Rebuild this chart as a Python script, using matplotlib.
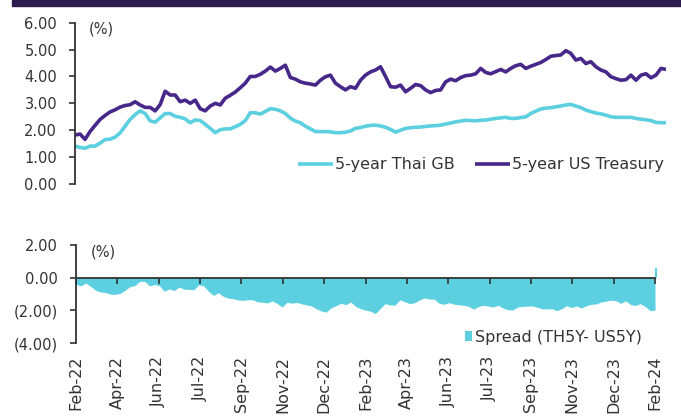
import numpy as np
import matplotlib
matplotlib.use("Agg")
import matplotlib.pyplot as plt
from matplotlib.patches import Rectangle

# ---------------- data ----------------
us5y = [1.82, 1.86, 1.66, 1.95, 2.18, 2.40, 2.55, 2.68, 2.76, 2.86,
        2.92, 2.95, 3.06, 2.94, 2.85, 2.85, 2.72, 2.95, 3.45, 3.31,
        3.31, 3.06, 3.12, 3.00, 3.12, 2.80, 2.72, 2.90, 3.00, 2.94,
        3.19, 3.30, 3.42, 3.58, 3.75, 4.00, 4.00, 4.08, 4.20, 4.35,
        4.20, 4.30, 4.42, 3.96, 3.90, 3.80, 3.75, 3.72, 3.68, 3.86,
        3.99, 4.05, 3.75, 3.62, 3.50, 3.62, 3.56, 3.86, 4.05, 4.17,
        4.24, 4.36, 4.00, 3.62, 3.60, 3.68, 3.43, 3.56, 3.70, 3.66,
        3.50, 3.40, 3.48, 3.50, 3.80, 3.90, 3.84, 3.96, 4.03, 4.05,
        4.10, 4.30, 4.15, 4.10, 4.18, 4.26, 4.17, 4.30, 4.40, 4.45,
        4.30, 4.38, 4.45, 4.52, 4.63, 4.75, 4.78, 4.80, 4.96, 4.86,
        4.61, 4.67, 4.48, 4.55, 4.36, 4.24, 4.17, 3.99, 3.92, 3.86,
        3.88, 4.05, 3.86, 4.05, 4.10, 3.95, 4.05, 4.30, 4.26]

thai5y = [1.41, 1.36, 1.33, 1.41, 1.41, 1.52, 1.65, 1.67, 1.74, 1.90,
          2.15, 2.40, 2.58, 2.72, 2.62, 2.35, 2.30, 2.46, 2.62, 2.62,
          2.52, 2.48, 2.42, 2.28, 2.38, 2.36, 2.22, 2.07, 1.91, 2.02,
          2.05, 2.05, 2.13, 2.22, 2.36, 2.65, 2.65, 2.60, 2.70, 2.80,
          2.78, 2.72, 2.62, 2.45, 2.34, 2.28, 2.15, 2.05, 1.95, 1.95,
          1.95, 1.94, 1.91, 1.91, 1.93, 1.97, 2.07, 2.10, 2.15, 2.18,
          2.19, 2.16, 2.11, 2.03, 1.93, 2.00, 2.07, 2.09, 2.11, 2.12,
          2.14, 2.16, 2.17, 2.19, 2.23, 2.27, 2.31, 2.34, 2.37, 2.36,
          2.35, 2.37, 2.38, 2.41, 2.44, 2.46, 2.48, 2.44, 2.44, 2.47,
          2.50, 2.62, 2.71, 2.79, 2.82, 2.84, 2.87, 2.90, 2.94, 2.96,
          2.90, 2.84, 2.75, 2.69, 2.64, 2.61, 2.56, 2.50, 2.48, 2.48,
          2.48, 2.48, 2.44, 2.41, 2.39, 2.36, 2.29, 2.28, 2.28]

spread_last = [0.60]   # final spread print shown as a spike at the end

month_labels = ["Feb-22", "Apr-22", "Jun-22", "Jul-22", "Sep-22", "Nov-22",
                "Dec-22", "Feb-23", "Apr-23", "Jun-23", "Jul-23", "Sep-23",
                "Nov-23", "Dec-23", "Feb-24"]

upper_ticks = [0, 1, 2, 3, 4, 5, 6]
lower_ticks = [-4, -2, 0, 2]

# ---------------- style ----------------
CYAN = "#5ccfe0"
PURPLE = "#47288a"
HEADER = "#2d1a4f"
TXT = "#333333"
FS = 10.5
FS_LEG = 11.5
FS_X = 11.5

plt.rcParams["font.family"] = ["DejaVu Sans"]

W, H = 681, 419
fig = plt.figure(figsize=(W / 100, H / 100), dpi=100)

def fx(px):
    return px / W

def fy(py):
    return (H - py) / H

# header bar
fig.patches.append(Rectangle((fx(12), fy(6)), 1 - fx(12), fy(0) - fy(6),
                             transform=fig.transFigure, color=HEADER, zorder=5))

us = np.array(us5y)
th = np.array(thai5y)
idx = np.arange(len(us))
spread = th - us

# ---------------- upper panel ----------------
ax1 = fig.add_axes([fx(75), fy(184), fx(666) - fx(75), fy(22.7) - fy(184)])
ax1.plot(idx, th, color=CYAN, lw=2.6, label="5-year Thai GB", solid_capstyle="butt")
ax1.plot(idx, us, color=PURPLE, lw=2.6, label="5-year US Treasury", solid_capstyle="butt")
ax1.set_xlim(idx[0], idx[-1])
ax1.set_ylim(0, 6)
ax1.set_yticks(upper_ticks)
ax1.set_yticklabels([f"{v:.2f}" for v in upper_ticks])
for s in ["top", "right", "bottom"]:
    ax1.spines[s].set_visible(False)
ax1.spines["left"].set_color(TXT)
ax1.spines["left"].set_linewidth(1.3)
ax1.set_xticks([])
ax1.tick_params(axis="y", direction="out", length=4.3, width=1.2, color=TXT,
                labelsize=FS, labelcolor=TXT, pad=8.5)
ax1.text(fx(89), fy(29), "(%)", transform=fig.transFigure, fontsize=FS,
         color=TXT, ha="left", va="center")
ax1.legend(loc="center left", bbox_to_anchor=(fx(298), fy(165)),
           bbox_transform=fig.transFigure, frameon=False, ncol=2, fontsize=FS_LEG,
           labelcolor=TXT, borderpad=0, borderaxespad=0, handlelength=2.2,
           handletextpad=0.12, columnspacing=1.25)

# ---------------- lower panel ----------------
ax2 = fig.add_axes([fx(76), fy(343), fx(655) - fx(76), fy(245) - fy(343)])
ax2.fill_between(idx, spread, 0, color=CYAN, lw=0, label="Spread (TH5Y- US5Y)")
ax2.bar([idx[-1]], spread_last, width=0.35, color=CYAN, lw=0, align="edge",
        clip_on=False)
ax2.set_xlim(idx[0], idx[-1])
ax2.set_ylim(-4, 2)
ax2.set_yticks(lower_ticks)
ax2.set_yticklabels([f"({abs(v):.2f})" if v < 0 else f"{v:.2f}" for v in lower_ticks])
for s in ["top", "right"]:
    ax2.spines[s].set_visible(False)
ax2.spines["bottom"].set_position(("data", 0))
ax2.spines["bottom"].set_zorder(4)
for s in ["left", "bottom"]:
    ax2.spines[s].set_color(TXT)
    ax2.spines[s].set_linewidth(1.3)
ax2.set_xticks(np.linspace(idx[0], idx[-1], len(month_labels)))
ax2.set_xticklabels(month_labels, rotation=90)
ax2.tick_params(axis="y", direction="out", length=4.3, width=1.2, color=TXT,
                labelsize=FS, labelcolor=TXT, pad=8.5)
ax2.tick_params(axis="x", direction="out", length=4.3, width=1.2, color=TXT,
                labelsize=FS_X, labelcolor=TXT, pad=52)
ax2.text(fx(91), fy(252), "(%)", transform=fig.transFigure, fontsize=FS,
         color=TXT, ha="left", va="center")
ax2.legend(loc="center left", bbox_to_anchor=(fx(465), fy(337)),
           bbox_transform=fig.transFigure, frameon=False, fontsize=FS_LEG,
           labelcolor=TXT, borderpad=0, borderaxespad=0, handlelength=0.42,
           handleheight=0.65, handletextpad=0.2)

fig.savefig("out.png", dpi=100)
